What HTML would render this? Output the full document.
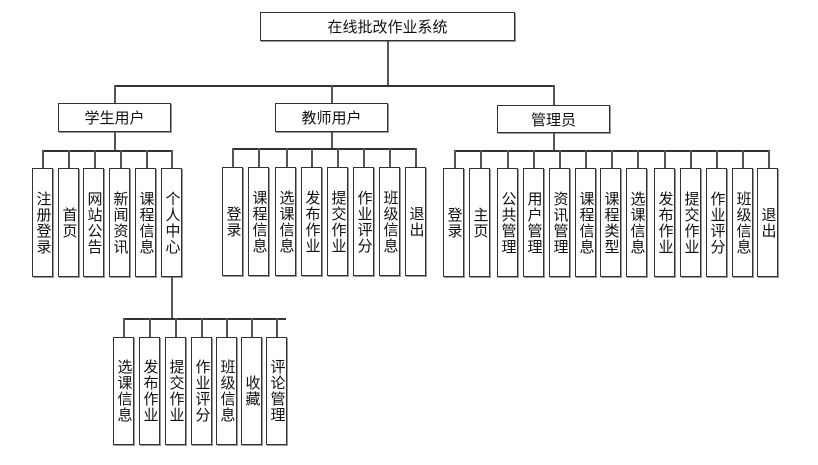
<!DOCTYPE html>
<html><head><meta charset="utf-8"><style>
body{margin:0;width:818px;height:465px;background:#fff;position:relative;overflow:hidden;font-family:"Liberation Sans","Noto Sans CJK SC",sans-serif;}
.b{position:absolute;box-sizing:border-box;border:1.5px solid #333;background:#fff;display:flex;align-items:center;justify-content:center;font-size:15px;color:#111;box-shadow:1px 1px 0 #999;}
.v{writing-mode:vertical-rl;text-orientation:upright;letter-spacing:1px;line-height:20px;}
.h{position:absolute;height:1.5px;background:#333;}
.l{position:absolute;width:1.5px;background:#555;}
</style></head><body>
<div class="b" style="left:260px;top:12px;width:255px;height:29px;">在线批改作业系统</div>
<div class="l" style="left:387px;top:41px;height:44px;"></div>
<div class="h" style="left:114px;top:85px;width:440px;"></div>
<div class="l" style="left:114px;top:85px;height:18px;"></div>
<div class="l" style="left:331px;top:85px;height:18px;"></div>
<div class="l" style="left:553px;top:85px;height:20px;"></div>
<div class="b" style="left:58px;top:103px;width:113px;height:29px;">学生用户</div>
<div class="b" style="left:275px;top:103px;width:113px;height:29px;">教师用户</div>
<div class="b" style="left:497px;top:105px;width:113px;height:28px;">管理员</div>

<div class="l" style="left:114px;top:132px;height:19px;"></div>
<div class="h" style="left:42px;top:150px;width:130px;"></div>
<div class="l" style="left:42px;top:150px;height:18px;"></div>
<div class="l" style="left:68px;top:150px;height:18px;"></div>
<div class="l" style="left:94px;top:150px;height:18px;"></div>
<div class="l" style="left:120px;top:150px;height:18px;"></div>
<div class="l" style="left:146px;top:150px;height:18px;"></div>
<div class="l" style="left:171px;top:150px;height:18px;"></div>
<div class="b v" style="left:32px;top:168px;width:21px;height:109px;">注册登录</div>
<div class="b v" style="left:58px;top:168px;width:21px;height:109px;">首页</div>
<div class="b v" style="left:83px;top:168px;width:21px;height:109px;">网站公告</div>
<div class="b v" style="left:109px;top:168px;width:21px;height:109px;">新闻资讯</div>
<div class="b v" style="left:135px;top:168px;width:21px;height:109px;">课程信息</div>
<div class="b v" style="left:161px;top:168px;width:21px;height:109px;">个人中心</div>

<div class="l" style="left:171px;top:277px;height:42px;"></div>
<div class="h" style="left:123px;top:318px;width:163px;"></div>
<div class="l" style="left:123px;top:318px;height:19px;"></div>
<div class="l" style="left:149px;top:318px;height:19px;"></div>
<div class="l" style="left:175px;top:318px;height:19px;"></div>
<div class="l" style="left:201px;top:318px;height:19px;"></div>
<div class="l" style="left:226px;top:318px;height:19px;"></div>
<div class="l" style="left:251px;top:318px;height:19px;"></div>
<div class="l" style="left:276px;top:318px;height:19px;"></div>
<div class="b v" style="left:113px;top:337px;width:21px;height:108px;">选课信息</div>
<div class="b v" style="left:139px;top:337px;width:21px;height:108px;">发布作业</div>
<div class="b v" style="left:165px;top:337px;width:21px;height:108px;">提交作业</div>
<div class="b v" style="left:191px;top:337px;width:21px;height:108px;">作业评分</div>
<div class="b v" style="left:216px;top:337px;width:21px;height:108px;">班级信息</div>
<div class="b v" style="left:241px;top:337px;width:21px;height:108px;">收藏</div>
<div class="b v" style="left:266px;top:337px;width:21px;height:108px;">评论管理</div>

<div class="l" style="left:331px;top:132px;height:17px;"></div>
<div class="h" style="left:232px;top:148px;width:184px;"></div>
<div class="l" style="left:232px;top:148px;height:19px;"></div>
<div class="l" style="left:258px;top:148px;height:19px;"></div>
<div class="l" style="left:286px;top:148px;height:19px;"></div>
<div class="l" style="left:311px;top:148px;height:19px;"></div>
<div class="l" style="left:337px;top:148px;height:19px;"></div>
<div class="l" style="left:363px;top:148px;height:19px;"></div>
<div class="l" style="left:389px;top:148px;height:19px;"></div>
<div class="l" style="left:415px;top:148px;height:19px;"></div>
<div class="b v" style="left:222px;top:167px;width:21px;height:109px;">登录</div>
<div class="b v" style="left:248px;top:167px;width:21px;height:109px;">课程信息</div>
<div class="b v" style="left:275px;top:167px;width:21px;height:109px;">选课信息</div>
<div class="b v" style="left:301px;top:167px;width:21px;height:109px;">发布作业</div>
<div class="b v" style="left:327px;top:167px;width:21px;height:109px;">提交作业</div>
<div class="b v" style="left:353px;top:167px;width:21px;height:109px;">作业评分</div>
<div class="b v" style="left:379px;top:167px;width:21px;height:109px;">班级信息</div>
<div class="b v" style="left:405px;top:167px;width:21px;height:109px;">退出</div>

<div class="l" style="left:553px;top:133px;height:18px;"></div>
<div class="h" style="left:454px;top:150px;width:315px;"></div>
<div class="l" style="left:454px;top:150px;height:18px;"></div>
<div class="l" style="left:480px;top:150px;height:18px;"></div>
<div class="l" style="left:507px;top:150px;height:18px;"></div>
<div class="l" style="left:533px;top:150px;height:18px;"></div>
<div class="l" style="left:559px;top:150px;height:18px;"></div>
<div class="l" style="left:585px;top:150px;height:18px;"></div>
<div class="l" style="left:611px;top:150px;height:18px;"></div>
<div class="l" style="left:637px;top:150px;height:18px;"></div>
<div class="l" style="left:664px;top:150px;height:18px;"></div>
<div class="l" style="left:690px;top:150px;height:18px;"></div>
<div class="l" style="left:716px;top:150px;height:18px;"></div>
<div class="l" style="left:742px;top:150px;height:18px;"></div>
<div class="l" style="left:768px;top:150px;height:18px;"></div>
<div class="b v" style="left:443px;top:168px;width:21px;height:109px;">登录</div>
<div class="b v" style="left:469px;top:168px;width:21px;height:109px;">主页</div>
<div class="b v" style="left:497px;top:168px;width:21px;height:109px;">公共管理</div>
<div class="b v" style="left:523px;top:168px;width:21px;height:109px;">用户管理</div>
<div class="b v" style="left:549px;top:168px;width:21px;height:109px;">资讯管理</div>
<div class="b v" style="left:575px;top:168px;width:21px;height:109px;">课程信息</div>
<div class="b v" style="left:600px;top:168px;width:21px;height:109px;">课程类型</div>
<div class="b v" style="left:626px;top:168px;width:21px;height:109px;">选课信息</div>
<div class="b v" style="left:654px;top:168px;width:21px;height:109px;">发布作业</div>
<div class="b v" style="left:680px;top:168px;width:21px;height:109px;">提交作业</div>
<div class="b v" style="left:706px;top:168px;width:21px;height:109px;">作业评分</div>
<div class="b v" style="left:732px;top:168px;width:21px;height:109px;">班级信息</div>
<div class="b v" style="left:757px;top:168px;width:21px;height:109px;">退出</div>
</body></html>
